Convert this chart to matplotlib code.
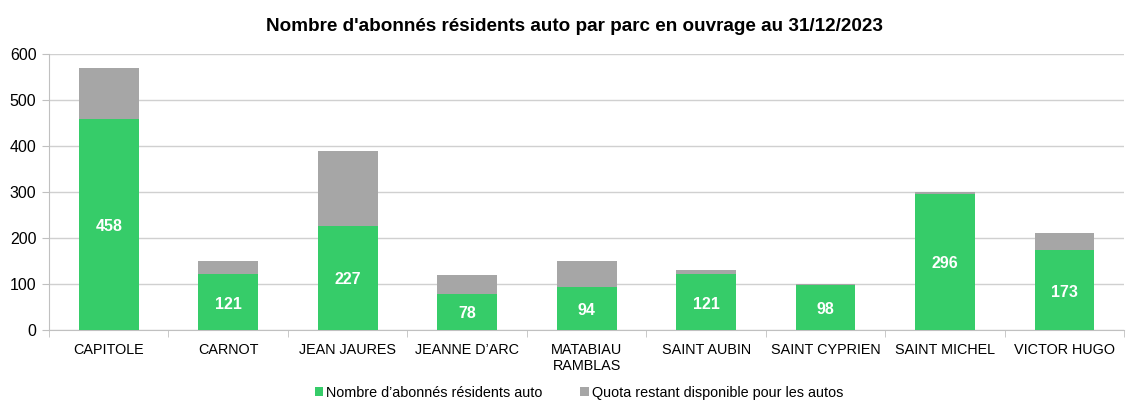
import matplotlib
matplotlib.use("Agg")
import matplotlib.pyplot as plt
import numpy as np

parcs = ["CAPITOLE", "CARNOT", "JEAN JAURES", "JEANNE D’ARC", "MATABIAU\nRAMBLAS",
         "SAINT AUBIN", "SAINT CYPRIEN", "SAINT MICHEL", "VICTOR HUGO"]
abonnes = [458, 121, 227, 78, 94, 121, 98, 296, 173]
quota_restant = [112, 29, 163, 42, 56, 9, 2, 4, 37]
y_ticks = [0, 100, 200, 300, 400, 500, 600]

plt.rcParams["font.family"] = ["Liberation Sans", "DejaVu Sans"]

green = "#36cc69"
grey = "#a6a6a6"

fig = plt.figure(figsize=(11.26, 4.01), dpi=100)
ax = fig.add_axes([0.0435, 0.177, 0.955, 0.688])

x = np.arange(len(parcs))
ax.bar(x, abonnes, width=0.5, color=green, label="Nombre d’abonnés résidents auto", zorder=3)
ax.bar(x, quota_restant, width=0.5, bottom=abonnes, color=grey,
       label="Quota restant disponible pour les autos", zorder=3)

for xi, v in zip(x, abonnes):
    ax.text(xi, v / 2 - 4, str(v), ha="center", va="center", color="white",
            fontsize=11.5, fontweight="bold", zorder=4)

ax.set_xlim(-0.5, len(parcs) - 0.5)
ax.set_ylim(0, 600)
ax.set_yticks(y_ticks)
ax.yaxis.grid(True, color="#d0d0d0", linewidth=1, zorder=0)
ax.set_xticks(x)
ax.set_xticklabels(parcs, fontsize=10.4)
ax.set_xticks(np.arange(-0.5, len(parcs)), minor=True)
ax.tick_params(axis="x", which="major", length=0, pad=9)
ax.tick_params(axis="x", which="minor", length=5, color="#c0c0c0", direction="out")
ax.tick_params(axis="y", length=5, color="#c0c0c0", labelsize=11.5, pad=4)

for side in ["top", "right"]:
    ax.spines[side].set_visible(False)
for side in ["left", "bottom"]:
    ax.spines[side].set_color("#c0c0c0")

fig.text(0.51, 0.933, "Nombre d'abonnés résidents auto par parc en ouvrage au 31/12/2023",
         ha="center", va="center", fontsize=13.6, fontweight="bold")

fig.legend(loc="center", bbox_to_anchor=(0.514, 0.02), ncol=2, frameon=False,
           fontsize=10.4, handlelength=0.6, handleheight=0.6, handletextpad=0.2,
           columnspacing=2.6)

fig.savefig("out.png", dpi=100)
